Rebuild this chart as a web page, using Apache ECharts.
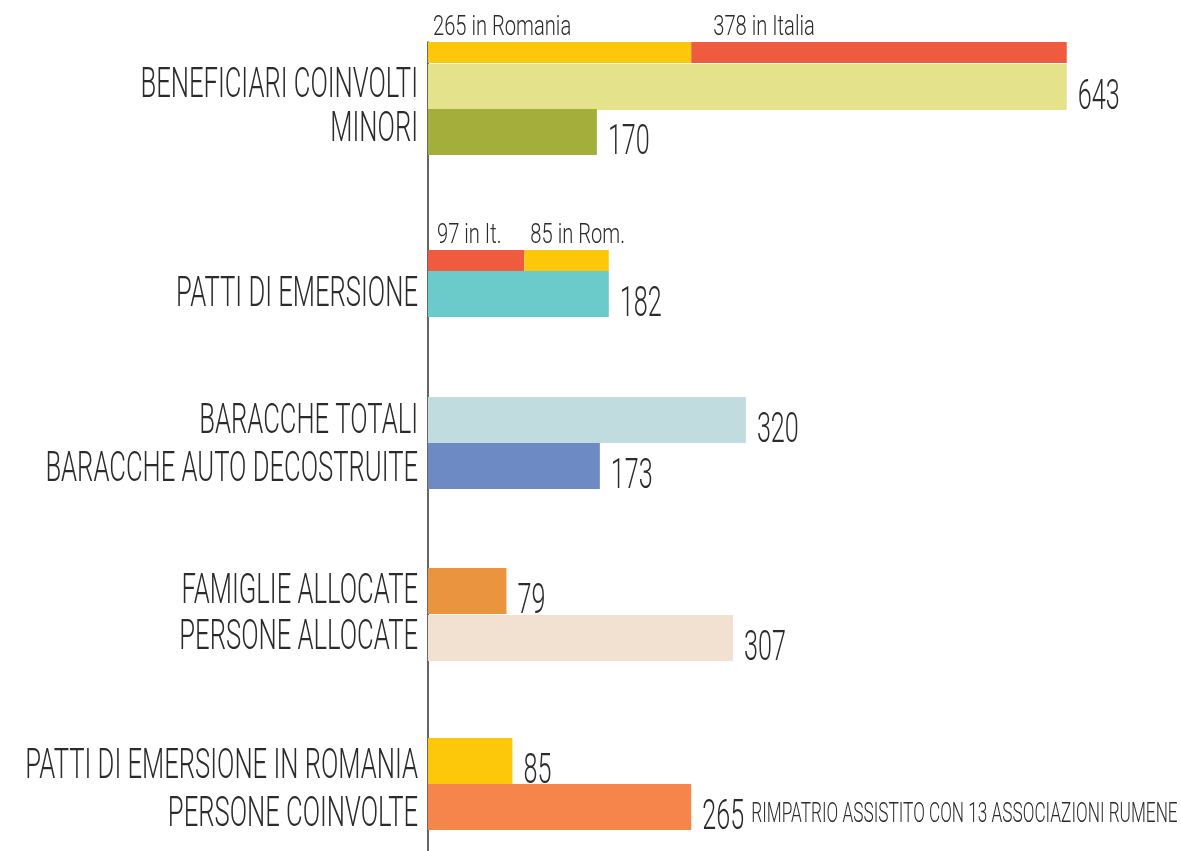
<!DOCTYPE html>
<html>
<head>
<meta charset="utf-8">
<script src="https://cdn.jsdelivr.net/npm/echarts@6/dist/echarts.min.js"></script>
<style>
  html, body { margin: 0; background: #fff; }
  #main { width: 1181px; height: 851px; }
</style>
</head>
<body>
<div id="main"></div>
<script>
  // dati
  var categories = ['BENEFICIARI COINVOLTI', 'MINORI', 'PATTI DI EMERSIONE', 'BARACCHE TOTALI',
    'BARACCHE AUTO DECOSTRUITE', 'FAMIGLIE ALLOCATE', 'PERSONE ALLOCATE',
    'PATTI DI EMERSIONE IN ROMANIA', 'PERSONE COINVOLTE']
  var values = [643, 170, 182, 320, 173, 79, 307, 85, 265]
  var notes = ['', '', '', '', '', '', '', '', 'RIMPATRIO ASSISTITO CON 13 ASSOCIAZIONI RUMENE']

  // barre sottili divise (Romania / Italia)
  var splitLabels = ['265 in Romania', '378 in Italia', '97 in It.', '85 in Rom.']
  var splitValues = [265, 378, 97, 85]
  var splitGroup = [0, 0, 1, 1]

  // colori
  var barColors = ['#e4e38b', '#a3af3a', '#6bcaca', '#c0dcdf', '#6d8ac5', '#eb943f', '#f2e0d1', '#fec80a', '#f5854a']
  var splitColors = ['#fec80a', '#f05a3e', '#f05a3e', '#fec80a']

  // layout (righe in pixel dell'asse y)
  var rowTop = [64, 109, 271, 397, 443, 568, 615, 738, 784]
  var rowH = 46
  var labelDy = [-1, -2, 1, 2, 4, 1, 0, 6, 8]
  var splitTop = [42, 250]
  var splitH = 21
  var splitLabelDx = [5, 22, 9, 6]

  var TXT = '#2b2b2b'

  var mainData = values.map(function (v, i) { return [v, rowTop[i], rowTop[i] + rowH] })

  var splitData = []
  var acc = [0, 0]
  for (var i = 0; i < splitValues.length; i++) {
    var g = splitGroup[i]
    splitData.push([acc[g], acc[g] + splitValues[i], splitTop[g], splitTop[g] + splitH])
    acc[g] += splitValues[i]
  }

  // testo condensato (scala orizzontale)
  function txt (x, y, text, size, sx, align) {
    return {
      type: 'text', x: x, y: y, scaleX: sx,
      style: {
        text: text, fill: TXT, fontFamily: 'Roboto', fontWeight: 300, fontSize: size,
        align: align, verticalAlign: 'middle'
      }
    }
  }

  function renderBar (params, api) {
    var i = params.dataIndex
    var v = api.value(0)
    var p0 = api.coord([0, api.value(1)])
    var p1 = api.coord([v, api.value(2)])
    var children = [
      { type: 'rect', shape: { x: p0[0], y: p0[1], width: p1[0] - p0[0], height: p1[1] - p0[1] }, style: { fill: barColors[i] } },
      txt(p0[0] - 10, (p0[1] + p1[1]) / 2 + labelDy[i], categories[i], 42, 0.61, 'right'),
      txt(p1[0] + 11, p1[1] - 12, String(v), 42, 0.6, 'left')
    ]
    if (notes[i]) {
      children.push(txt(p1[0] + 60, p1[1] - 15, notes[i], 28, 0.615, 'left'))
    }
    return { type: 'group', children: children }
  }

  function renderSplit (params, api) {
    var i = params.dataIndex
    var p0 = api.coord([api.value(0), api.value(2)])
    var p1 = api.coord([api.value(1), api.value(3)])
    return {
      type: 'group',
      children: [
        { type: 'rect', shape: { x: p0[0], y: p0[1], width: p1[0] - p0[0], height: p1[1] - p0[1] }, style: { fill: splitColors[i] } },
        txt(p0[0] + splitLabelDx[i], p0[1] - 14, splitLabels[i], 28, 0.72, 'left')
      ]
    }
  }

  var myChart = echarts.init(document.getElementById('main'))
  myChart.setOption({
    animation: false,
    grid: { left: 428, right: 0, top: 42, bottom: 0 },
    xAxis: {
      type: 'value', min: 0, max: 758, show: false
    },
    yAxis: {
      type: 'value', inverse: true, min: 42, max: 851,
      axisLine: { show: true, lineStyle: { color: '#333', width: 1.5 } },
      axisTick: { show: false },
      axisLabel: { show: false },
      splitLine: { show: false }
    },
    series: [
      { type: 'custom', renderItem: renderBar, data: mainData, z: 1 },
      { type: 'custom', renderItem: renderSplit, data: splitData, z: 2 }
    ]
  })
</script>
</body>
</html>
